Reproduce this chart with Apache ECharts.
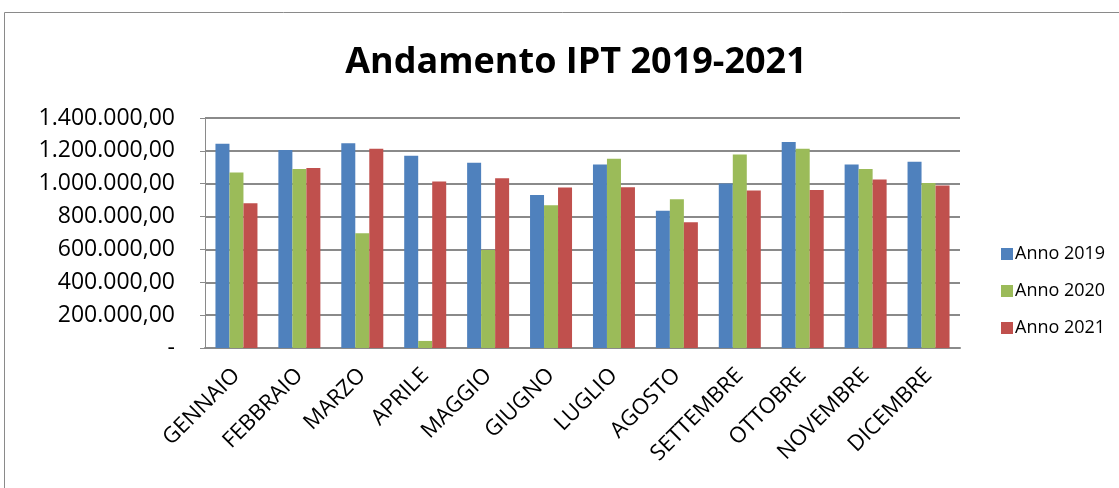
<!DOCTYPE html>
<html>
<head>
<meta charset="utf-8">
<script src="https://cdn.jsdelivr.net/npm/echarts@6/dist/echarts.min.js"></script>
<style>
  html, body { margin: 0; padding: 0; background: #fff; }
  #chart { width: 1119px; height: 488px; }
</style>
</head>
<body>
<div id="chart"></div>
<script>
// dati
const mesi = ['GENNAIO', 'FEBBRAIO', 'MARZO', 'APRILE', 'MAGGIO', 'GIUGNO',
  'LUGLIO', 'AGOSTO', 'SETTEMBRE', 'OTTOBRE', 'NOVEMBRE', 'DICEMBRE'];
const anno2019 = [1243000, 1205000, 1247000, 1170000, 1127000, 932000,
  1117000, 836000, 1001000, 1254000, 1117000, 1134000];
const anno2020 = [1068000, 1089000, 698000, 43000, 596000, 869000,
  1152000, 906000, 1178000, 1213000, 1089000, 1005000];
const anno2021 = [881000, 1095000, 1213000, 1013000, 1034000, 977000,
  979000, 765000, 958000, 961000, 1026000, 989000];
const yTickLabels = ['-', '200.000,00', '400.000,00', '600.000,00', '800.000,00',
  '1.000.000,00', '1.200.000,00', '1.400.000,00'];

const myChart = echarts.init(document.getElementById('chart'));

const font = 'Open Sans';
const option = {
  backgroundColor: '#fff',
  textStyle: { fontFamily: font },
  title: {
    text: 'Andamento IPT 2019-2021',
    left: 571,
    top: 40,
    textAlign: 'center',
    textStyle: { fontSize: 36, fontWeight: 'bold', color: '#000', fontFamily: font }
  },
  graphic: [{
    type: 'rect',
    shape: { x: 4.5, y: 12.5, width: 1130, height: 500 },
    style: { fill: 'none', stroke: '#8a8a8a', lineWidth: 1 },
    silent: true
  }],
  legend: {
    orient: 'vertical',
    left: 996,
    top: 240,
    itemWidth: 12,
    itemHeight: 12,
    itemGap: 19,
    icon: 'rect',
    textStyle: { fontSize: 18, color: '#000', fontFamily: font, padding: [0, 0, 0, -3] },
    data: ['Anno 2019', 'Anno 2020', 'Anno 2021']
  },
  grid: { left: 205, right: 159, top: 118, bottom: 140, containLabel: false },
  xAxis: {
    type: 'category',
    data: mesi,
    axisLine: { lineStyle: { color: '#8a8a8a', width: 2 } },
    axisTick: { show: false },
    axisLabel: {
      rotate: 45,
      interval: 0,
      margin: 24,
      fontSize: 22,
      color: '#000',
      fontFamily: font
    }
  },
  yAxis: {
    type: 'value',
    min: 0,
    max: 1400000,
    interval: 200000,
    axisLine: { show: true, lineStyle: { color: '#8a8a8a', width: 1 } },
    axisTick: { show: true, length: 5, lineStyle: { color: '#8a8a8a' } },
    splitLine: { lineStyle: { color: '#8a8a8a', width: 2 } },
    axisLabel: {
      margin: 30,
      fontSize: 23,
      color: '#000',
      fontFamily: font,
      formatter: function (v) { return yTickLabels[Math.round(v / 200000)]; }
    }
  },
  series: [
    { name: 'Anno 2019', type: 'bar', data: anno2019, barWidth: 14, barGap: '0%',
      itemStyle: { color: '#4F81BD' } },
    { name: 'Anno 2020', type: 'bar', data: anno2020, barWidth: 14, barGap: '0%',
      itemStyle: { color: '#9BBB59' } },
    { name: 'Anno 2021', type: 'bar', data: anno2021, barWidth: 14, barGap: '0%',
      itemStyle: { color: '#C0504D' } }
  ]
};

option && myChart.setOption(option);
</script>
</body>
</html>
